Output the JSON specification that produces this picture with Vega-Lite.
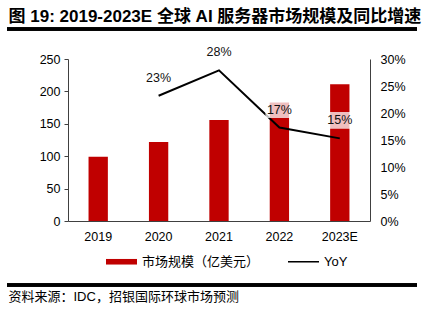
{
  "$schema": "https://vega.github.io/schema/vega-lite/v6.json",
  "padding": {"left": 5, "top": 7, "right": 4, "bottom": 0},
  "data": {"values": [
    {"year": "2019", "size": 99, "yoy": null},
    {"year": "2020", "size": 122, "yoy": 0.232},
    {"year": "2021", "size": 156, "yoy": 0.279},
    {"year": "2022", "size": 183, "yoy": 0.173},
    {"year": "2023E", "size": 211, "yoy": 0.153}
  ]},
  "config": {
    "font": "Liberation Sans, Noto Sans CJK SC",
    "view": {"stroke": null},
    "axis": {"labelFont": "Liberation Sans", "labelFontSize": 12.5, "labelColor": "#000", "domainColor": "#404040", "tickColor": "#404040", "grid": false, "title": null}
  },
  "spacing": 12,
  "vconcat": [
    {
      "width": 410, "height": 2,
      "title": {"text": "图 19: 2019-2023E 全球 AI 服务器市场规模及同比增速", "anchor": "start", "fontSize": 17, "fontWeight": "bold", "font": "Liberation Sans, Noto Sans CJK SC", "dx": 3, "offset": 2, "color": "#000"},
      "mark": {"type": "rule", "color": "#000", "strokeWidth": 3},
      "encoding": {"y": {"datum": 0.5, "type": "quantitative", "scale": {"domain": [0, 1]}, "axis": null}}
    },
    {
      "spacing": 40,
      "vconcat": [
        {
          "spacing": 0,
          "hconcat": [
            {
              "width": 1, "height": 162,
              "mark": {"type": "text"},
              "encoding": {"text": {"value": ""}}
            },
            {
              "width": 302, "height": 162,
              "encoding": {
                "x": {"field": "year", "type": "ordinal", "sort": null,
                      "scale": {"paddingInner": 0.68, "paddingOuter": 0.34},
                      "axis": {"labelAngle": 0, "ticks": false, "labelPadding": 9, "domainColor": "#404040"}}
              },
              "layer": [
                {
                  "mark": {"type": "bar"},
                  "encoding": {
                    "y": {"field": "size", "type": "quantitative", "scale": {"domain": [0, 250]},
                          "axis": {"values": [0, 50, 100, 150, 200, 250], "tickSize": 4, "labelPadding": 4, "minExtent": 60}},
                    "color": {"datum": "市场规模（亿美元）", "type": "nominal",
                              "scale": {"domain": ["市场规模（亿美元）", "YoY"], "range": ["#C00000", "#000000"]},
                              "legend": {"orient": "none", "legendX": 99, "legendY": 218, "direction": "horizontal", "title": null,
                                         "labelFontSize": 13, "labelColor": "#000", "labelFont": "Liberation Sans, Noto Sans CJK SC",
                                         "columnPadding": 28, "labelOffset": 5, "symbolSize": 961, "symbolStrokeWidth": 0,
                                         "encode": {"symbols": {"update": {
                                           "shape": {"signal": "datum.value == 'YoY' ? 'M-1,-0.05H1V0.05H-1Z' : 'M-1,-0.18H1V0.18H-1Z'"},
                                           "fill": {"signal": "datum.value == 'YoY' ? '#000000' : '#C00000'"},
                                           "stroke": {"value": "transparent"},
                                           "opacity": {"value": 1}
                                         }}}}}
                  }
                },
                {
                  "transform": [{"filter": "datum.yoy != null"}],
                  "encoding": {
                    "y": {"field": "yoy", "type": "quantitative", "scale": {"domain": [0, 0.3]},
                          "axis": {"orient": "right", "format": ".0%", "values": [0, 0.05, 0.1, 0.15, 0.2, 0.25, 0.3], "ticks": false, "labelPadding": 10}}
                  },
                  "layer": [
                    {"mark": {"type": "line", "strokeWidth": 2}, "encoding": {"color": {"datum": "YoY", "type": "nominal"}}},
                    {"mark": {"type": "point", "shape": "M-1,-0.6H1V0.6H-1Z", "size": 784, "filled": true, "color": "white", "opacity": 0.75, "strokeWidth": 0, "yOffset": -18}},
                    {"mark": {"type": "text", "dy": -18, "fontSize": 12.5, "color": "#111", "baseline": "middle", "font": "Liberation Sans"},
                     "encoding": {"text": {"field": "yoy", "type": "quantitative", "format": ".0%"}}}
                  ]
                }
              ],
              "resolve": {"scale": {"y": "independent"}}
            }
          ]
        },
        {
          "width": 410, "height": 2,
          "title": {"text": "资料来源：IDC，招银国际环球市场预测", "orient": "bottom", "anchor": "start", "fontSize": 13, "fontWeight": "normal", "font": "Liberation Sans, Noto Sans CJK SC", "dx": 3, "offset": 4, "color": "#000"},
          "mark": {"type": "rule", "color": "#000", "strokeWidth": 3},
          "encoding": {"y": {"datum": 0.5, "type": "quantitative", "scale": {"domain": [0, 1]}, "axis": null}}
        }
      ]
    }
  ]
}
